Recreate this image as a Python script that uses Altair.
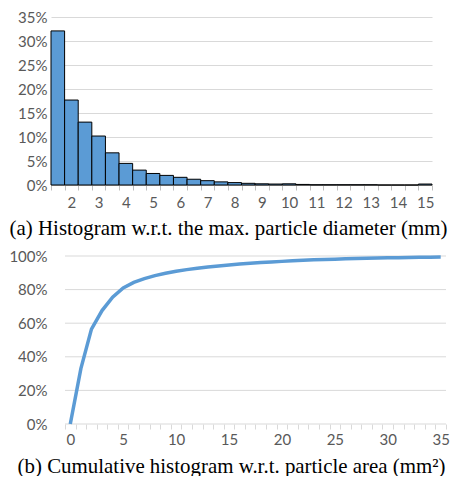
import altair as alt
import pandas as pd

# (a) histogram of max particle diameter (mm), bin labels and share in %
cats_a = ['1.5', '2', '2.5', '3', '3.5', '4', '4.5', '5', '5.5', '6', '6.5', '7',
          '7.5', '8', '8.5', '9', '9.5', '10', '10.5', '11', '11.5', '12', '12.5',
          '13', '13.5', '14', '14.5', '15']
vals_a = [32.1, 17.7, 13.1, 10.2, 6.7, 4.5, 3.1, 2.4, 2.0, 1.6, 1.2, 0.9,
          0.65, 0.5, 0.35, 0.25, 0.2, 0.25, 0.12, 0.05, 0.05, 0.05, 0.05,
          0.05, 0.0, 0.0, 0.0, 0.2]

# (b) cumulative histogram of particle area (mm^2), cumulative share in %
cats_b = [0, 1, 2, 3, 4, 5, 6, 7, 8, 9, 10, 11, 12, 13, 14, 15, 16, 17, 18, 19,
          20, 21, 22, 23, 24, 25, 26, 27, 28, 29, 30, 31, 32, 33, 34, 35]
vals_b = [0.0, 33.0, 56.5, 67.5, 75.5, 81.0, 84.3, 86.5, 88.3, 89.7, 90.9, 91.9,
          92.7, 93.5, 94.1, 94.7, 95.2, 95.7, 96.1, 96.5, 96.8, 97.1, 97.4, 97.7,
          97.9, 98.1, 98.3, 98.5, 98.7, 98.8, 98.9, 99.0, 99.1, 99.2, 99.3, 99.4]

yticks_a = [0, 0.05, 0.10, 0.15, 0.20, 0.25, 0.30, 0.35]
yticks_b = [0, 0.2, 0.4, 0.6, 0.8, 1.0]

caption_a = '(a) Histogram w.r.t. the max. particle diameter (mm)'
caption_b = '(b) Cumulative histogram w.r.t. particle area (mm\u00b2)'

df_a = pd.DataFrame({'d': cats_a, 'p': [v / 100 for v in vals_a]})
df_b = pd.DataFrame({'a': cats_b, 'c': [v / 100 for v in vals_b]})
df_grid_b = pd.DataFrame({'c': yticks_b})

BLUE = '#5B9BD5'
GRID = '#D9D9D9'
AXIS = '#BFBFBF'

top = alt.Chart(df_a).mark_bar(color=BLUE, stroke='#000000', strokeWidth=1).encode(
    x=alt.X('d:O', sort=cats_a,
            scale=alt.Scale(type='band', paddingInner=0, paddingOuter=0),
            axis=alt.Axis(title=caption_a, titleX=177, labelAngle=0,
                          labelExpr="indexof(datum.label, '.') >= 0 ? '' : datum.label",
                          labelOverlap=False, tickBand='extent', tickSize=5,
                          tickColor=AXIS, domainColor=AXIS, labelPadding=5,
                          titlePadding=7, grid=False)),
    y=alt.Y('p:Q', scale=alt.Scale(domain=[0, 0.35]),
            axis=alt.Axis(values=yticks_a, format='.0%', title=None, domain=False,
                          ticks=False, labelPadding=4, labelOverlap=False,
                          gridColor=GRID))
).properties(width=381, height=168)

xb = alt.X('a:O', sort=cats_b,
           scale=alt.Scale(type='band', paddingInner=0, paddingOuter=0.6614, align=1),
           axis=alt.Axis(title=caption_b, titleX=180, labelAngle=0,
                         labelExpr="datum.value % 5 == 0 ? datum.label : ''",
                         labelOverlap=False, tickBand='extent', tickSize=5,
                         tickColor=GRID, domain=False, labelPadding=3,
                         titlePadding=8, grid=False))
yb = alt.Y('c:Q', scale=alt.Scale(domain=[0, 1]),
           axis=alt.Axis(values=yticks_b, format='.0%', title=None, domain=False,
                         ticks=False, labelPadding=4, labelOverlap=False, grid=False))

grid_b = alt.Chart(df_grid_b).mark_rule(color=GRID, strokeWidth=1).encode(
    y=yb, x=alt.value(14), x2=alt.value(395))
line_b = alt.Chart(df_b).mark_line(color=BLUE, strokeWidth=3.5).encode(x=xb, y=yb)

bottom = alt.layer(grid_b, line_b).properties(width=395, height=168)

chart = alt.vconcat(top, bottom, spacing=11).configure_axis(
    labelFont='Lato', labelFontSize=15, labelColor='#595959',
    titleFont='Liberation Serif', titleFontSize=20.9, titleColor='#000000',
    titleFontWeight='normal'
).configure_view(stroke=None).properties(padding={'left': 0, 'top': 2, 'right': 0, 'bottom': 0})

chart.save('out.html', embed_options={'renderer': 'svg', 'actions': False})
